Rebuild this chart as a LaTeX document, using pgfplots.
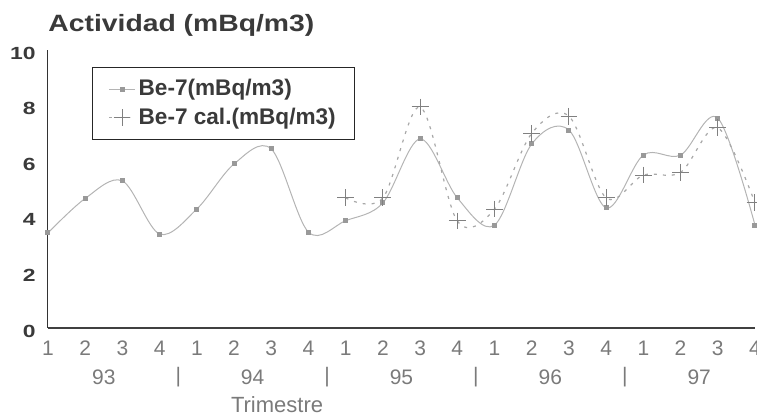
\documentclass[border=0pt]{standalone}
\usepackage{fontspec}
\setmainfont{Liberation Sans}
\newfontfamily\titlefont[FakeStretch=1.2]{Liberation Sans Bold}
\newfontfamily\tickfont[FakeStretch=1.3]{Liberation Sans Bold}
\usepackage{pgfplots}
\pgfplotsset{compat=1.18}

\definecolor{txtdark}{HTML}{3A3A3A}
\definecolor{txtgray}{HTML}{7A7A7A}
\definecolor{lineA}{HTML}{B4B4B4}
\definecolor{markA}{HTML}{999999}
\definecolor{lineB}{HTML}{A8A8A8}

\begin{document}
\begin{tikzpicture}
\useasboundingbox (-24pt,-44pt) rectangle (354.5pt,164pt);
\begin{axis}[
  scale only axis,
  width=353.5pt, height=139pt,
  xmin=1, xmax=20, ymin=0, ymax=10,
  axis lines=left,
  axis line style={-},
  x axis line style={line width=0.9pt, draw=black!75},
  y axis line style={line width=0.5pt, draw=black!80},
  xtick={1,...,20},
  xticklabels={1,2,3,4,1,2,3,4,1,2,3,4,1,2,3,4,1,2,3,4},
  ytick={0,2,...,10},
  major tick length=0pt,
  /pgf/number format/assume math mode=true,
  xticklabel style={font=\fontsize{10.5}{11}\selectfont, text=txtgray, anchor=center, yshift=-10pt},
  yticklabel style={font=\tickfont\fontsize{8.8}{9}\selectfont, text=txtdark, anchor=east, inner sep=0pt, xshift=-6pt, yshift=-1.5pt},
  xlabel={Trimestre},
  xlabel style={at={(axis description cs:0.324,0)}, anchor=center, yshift=-38.5pt,
    font=\fontsize{11}{12}\selectfont, text=txtgray},
  clip=false,
  legend style={at={(rel axis cs:0.062,0.939)}, anchor=north west,
    draw=black!85, line width=0.6pt, inner xsep=8pt, inner ysep=4.5pt,
    font=\bfseries\fontsize{11.3}{12}\selectfont, text=txtdark,
    nodes={inner sep=1.5pt}, row sep=1.5pt},
  legend cell align=left,
  legend image code/.code={
    \draw[mark repeat=2, mark phase=2, #1] plot coordinates {(0pt,0pt) (6.5pt,0pt) (13pt,0pt)};},
]
\addplot[smooth, tension=0.55, color=lineA, line width=0.5pt,
  mark=square*, mark size=1pt, mark options={fill=markA, draw=markA}]
  coordinates {(1,3.42) (2,4.66) (3,5.29) (4,3.38) (5,4.28) (6,5.90) (7,6.44) (8,3.45)
    (9,3.86) (10,4.50) (11,6.80) (12,4.68) (13,3.70) (14,6.62) (15,7.12) (16,4.32)
    (17,6.22) (18,6.22) (19,7.55) (20,3.70)};
\addlegendentry{Be-7(mBq/m3)}
\addplot[smooth, tension=0.55, color=lineB, line width=0.6pt, dash pattern=on 1.5pt off 3pt,
  mark=+, mark size=4.2pt, mark options={solid, draw=black!50, line width=0.5pt}]
  coordinates {(9,4.68) (10,4.68) (11,7.95) (12,3.85) (13,4.28) (14,7.00) (15,7.62)
    (16,4.68) (17,5.50) (18,5.60) (19,7.20) (20,4.50)};
\addlegendentry{Be-7 cal.(mBq/m3)}

\node[anchor=west, inner sep=0pt, yshift=12.5pt, font=\titlefont\fontsize{11.8}{13}\selectfont, text=txtdark]
  at (rel axis cs:0,1) {Actividad (mBq/m3)};
\node[font=\fontsize{10.5}{11}\selectfont, text=txtgray, yshift=-24.5pt] at (axis cs:2.5,0) {93};
\node[font=\fontsize{10.5}{11}\selectfont, text=txtgray, yshift=-24.5pt] at (axis cs:4.5,0) {|};
\node[font=\fontsize{10.5}{11}\selectfont, text=txtgray, yshift=-24.5pt] at (axis cs:6.5,0) {94};
\node[font=\fontsize{10.5}{11}\selectfont, text=txtgray, yshift=-24.5pt] at (axis cs:8.5,0) {|};
\node[font=\fontsize{10.5}{11}\selectfont, text=txtgray, yshift=-24.5pt] at (axis cs:10.5,0) {95};
\node[font=\fontsize{10.5}{11}\selectfont, text=txtgray, yshift=-24.5pt] at (axis cs:12.5,0) {|};
\node[font=\fontsize{10.5}{11}\selectfont, text=txtgray, yshift=-24.5pt] at (axis cs:14.5,0) {96};
\node[font=\fontsize{10.5}{11}\selectfont, text=txtgray, yshift=-24.5pt] at (axis cs:16.5,0) {|};
\node[font=\fontsize{10.5}{11}\selectfont, text=txtgray, yshift=-24.5pt] at (axis cs:18.5,0) {97};
\end{axis}
\end{tikzpicture}
\end{document}
